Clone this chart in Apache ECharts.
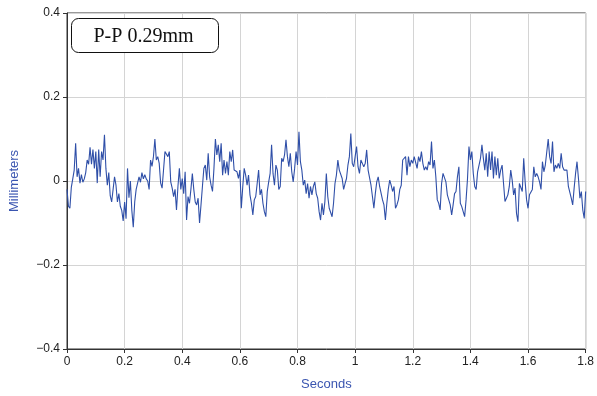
<!DOCTYPE html>
<html>
<head>
<meta charset="utf-8">
<script src="https://cdn.jsdelivr.net/npm/echarts@6/dist/echarts.min.js"></script>
<style>
  html, body { margin: 0; padding: 0; background: #fff; }
  #chart { width: 597px; height: 396px; }
</style>
</head>
<body>
<div id="chart"></div>
<script>
// sample spacing (seconds) and displacement readings (mm)
const timeStep = 0.005;
const displacement = [
  -0.02, -0.06, -0.065, -0.015, 0.005, 0.026, 0.09, 0.01, 0.03, -0.005,
  0.015, -0.003, 0.005, 0.02, 0.05, 0.04, 0.08, 0.04, 0.075, 0.03,
  0.07, -0.005, 0.075, 0.01, 0.07, 0.05, 0.11, 0.03, -0.01, 0.02,
  -0.035, -0.05, -0.02, 0.01, -0.01, -0.05, -0.03, -0.06, -0.07, -0.095,
  -0.05, -0.09, 0.03, -0.04, 0.0, -0.07, -0.11, -0.05, -0.02, -0.005,
  0.01, -0.003, 0.02, 0.005, 0.015, 0.005, 0.0, -0.02, 0.05, 0.035,
  0.058, 0.10, 0.05, 0.058, 0.042, -0.005, -0.017, 0.026, 0.07, 0.066,
  0.058, 0.07, -0.002, -0.017, -0.037, -0.02, -0.069, -0.013, 0.03, -0.02,
  0.006, -0.03, 0.022, -0.093, -0.037, -0.053, -0.02, 0.018, -0.02, -0.05,
  -0.057, -0.041, -0.1, -0.057, -0.013, 0.03, 0.038, 0.002, 0.066, 0.01,
  -0.01, -0.025, 0.03, 0.10, 0.062, 0.086, 0.046, 0.09, 0.014, 0.05,
  0.018, 0.046, 0.014, 0.07, 0.046, 0.074, 0.026, 0.03, 0.022, 0.006,
  0.026, -0.065, -0.013, 0.03, 0.014, -0.01, 0.014, -0.033, -0.053, -0.081,
  -0.045, -0.037, -0.006, 0.026, -0.033, -0.02, -0.053, -0.073, -0.085, -0.025,
  -0.002, 0.018, 0.086, 0.018, -0.01, 0.038, 0.026, -0.02, -0.013, 0.054,
  0.046, 0.062, 0.098, 0.058, 0.034, 0.066, 0.022, -0.002, 0.03, 0.07,
  0.038, 0.117, 0.046, 0.026, -0.01, 0.002, -0.03, -0.006, -0.041, -0.013,
  -0.033, -0.013, -0.002, -0.03, -0.041, -0.073, -0.093, -0.053, -0.081, -0.049,
  0.018, -0.037, -0.065, -0.061, -0.085, -0.053, -0.006, 0.014, 0.05, 0.026,
  0.022, 0.006, -0.02, -0.006, 0.006, 0.038, 0.058, 0.113, 0.042, 0.034,
  0.058, 0.082, 0.034, 0.018, 0.05, 0.042, 0.034, 0.042, 0.074, 0.026,
  0.022, -0.01, -0.037, -0.065, -0.03, -0.002, 0.01, -0.013, -0.01, -0.045,
  -0.057, -0.093, -0.053, -0.02, 0.002, -0.01, -0.025, -0.013, -0.065, -0.057,
  -0.045, -0.02, -0.01, 0.05, 0.054, 0.058, 0.014, 0.058, 0.034, 0.05,
  0.042, 0.058, 0.062, 0.03, 0.058, 0.046, 0.07, 0.042, 0.026, 0.034,
  0.026, 0.046, 0.038, 0.094, 0.03, 0.05, 0.01, -0.045, -0.053, -0.069,
  -0.006, 0.018, 0.022, -0.002, -0.033, -0.037, -0.057, -0.081, -0.057, -0.03,
  -0.025, 0.01, 0.034, -0.053, -0.061, -0.073, -0.085, -0.045, 0.006, 0.082,
  0.05, 0.07, 0.018, -0.013, -0.02, 0.022, 0.026, 0.054, 0.086, 0.054,
  0.026, 0.066, 0.01, 0.07, 0.026, 0.07, 0.006, 0.058, 0.014, 0.054,
  0.006, 0.026, 0.038, -0.006, -0.049, -0.041, -0.033, -0.013, 0.026, 0.002,
  -0.033, -0.017, -0.077, -0.097, -0.006, -0.01, -0.025, 0.054, -0.002, -0.045,
  -0.065, -0.033, -0.033, -0.02, 0.034, 0.01, 0.018, 0.01, -0.002, -0.02,
  0.046, 0.022, 0.038, 0.042, 0.10, 0.058, 0.042, 0.094, 0.022, 0.038,
  0.03, 0.042, 0.03, 0.066, 0.034, 0.026, 0.022, 0.026, -0.013, -0.01,
  -0.041, -0.057, -0.017, 0.018, 0.046, 0.006, -0.041, -0.025, -0.069, -0.089,
  -0.025
];
const xTicks = [0, 1.8, 0.2];     // min, max, interval
const yTicks = [-0.4, 0.4, 0.2];
const ppLabel = "P-P 0.29mm";

const points = displacement.map((v, i) => [+(i * timeStep).toFixed(3), v]);

const chart = echarts.init(document.getElementById("chart"), null, { renderer: "canvas" });

const sans = "Liberation Sans, Arial, sans-serif";
const labelFont = { color: "#222", fontSize: 12, fontFamily: sans };
const nameColor = "#3a55b0";

chart.setOption({
  animation: false,
  backgroundColor: "#fff",
  grid: {
    left: 64, right: 9, top: 13, bottom: 47,
    show: true, borderColor: "#333", borderWidth: 1,
  },
  xAxis: {
    type: "value",
    min: xTicks[0], max: xTicks[1], interval: xTicks[2],
    name: "Seconds",
    nameLocation: "middle",
    nameGap: 29,
    nameTextStyle: { color: nameColor, fontSize: 13, fontFamily: sans },
    axisLine: { onZero: false, lineStyle: { color: "#333", width: 1 } },
    axisTick: { show: true, inside: false, length: 4, lineStyle: { color: "#333" } },
    axisLabel: { ...labelFont, margin: 7 },
    splitLine: { show: true, lineStyle: { color: "#d4d4d4", width: 1 } },
  },
  yAxis: {
    type: "value",
    min: yTicks[0], max: yTicks[1], interval: yTicks[2],
    name: "Millimeters",
    nameLocation: "middle",
    nameGap: 46,
    nameTextStyle: { color: nameColor, fontSize: 13, fontFamily: sans },
    axisLine: { show: true, onZero: false, lineStyle: { color: "#333", width: 1 } },
    axisTick: { show: true, inside: false, length: 4, lineStyle: { color: "#333" } },
    axisLabel: {
      ...labelFont, margin: 7,
      formatter: (v) => String(+v.toFixed(1)).replace("-", "\u2212"),
    },
    splitLine: { show: true, lineStyle: { color: "#d4d4d4", width: 1 } },
  },
  graphic: [
    {
      type: "group",
      left: 71, top: 18,
      z: 100,
      children: [
        {
          type: "rect",
          z: 100,
          shape: { x: 0, y: 0, width: 147, height: 34, r: 7 },
          style: { fill: "#fff", stroke: "#111", lineWidth: 1 },
        },
        {
          type: "text",
          z: 101,
          x: 72, y: 18,
          style: {
            text: ppLabel,
            fill: "#111",
            fontSize: 20,
            fontFamily: "Liberation Serif, serif",
            align: "center",
            verticalAlign: "middle",
          },
        },
      ],
    },
  ],
  series: [
    {
      type: "line",
      data: points,
      showSymbol: false,
      symbol: "none",
      lineStyle: { color: "#2f4fa8", width: 1.1 },
      z: 3,
    },
  ],
});
</script>
</body>
</html>
